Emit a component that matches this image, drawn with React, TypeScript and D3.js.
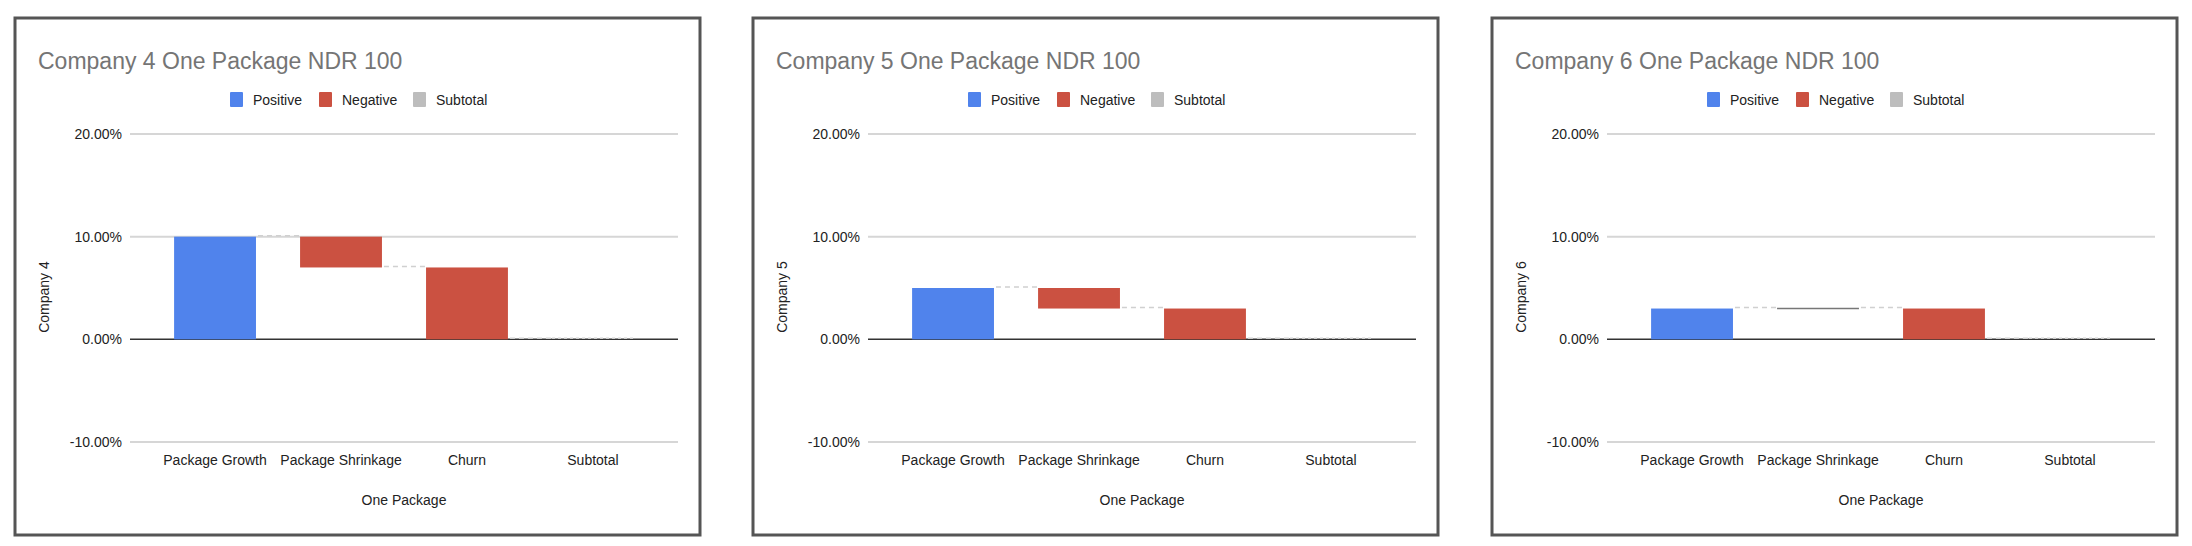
import * as d3 from 'd3';

const companies = ['Company 4', 'Company 5', 'Company 6'];
const categories = ['Package Growth', 'Package Shrinkage', 'Churn', 'Subtotal'];
// change per step, in percent (last one is the subtotal)
const growth = [10, 5, 3];
const shrinkage = [-3, -2, 0];
const churn = [-7, -3, -3];
const yTicks = [-10, 0, 10, 20];
const legendItems = ['Positive', 'Negative', 'Subtotal'];

const COLORS = { Positive: '#5083ec', Negative: '#cb5141', Subtotal: '#bdbdbd' };
const FONT = 'Arial, "Liberation Sans", sans-serif';
const PANEL_X = [15, 753, 1492];
const PANEL = { top: 18, w: 685, h: 517 };
const PLOT = { left: 115, right: 663 };

const Panel = ({ idx }: { idx: number }) => {
  const steps = [growth[idx], shrinkage[idx], churn[idx]];
  const x = d3.scalePoint<string>().domain(categories).range([PLOT.left, PLOT.right]).padding(0.675);
  const y = d3.scaleLinear().domain([-10, 20]).range([442 - PANEL.top, 134 - PANEL.top]);
  const bw = x.step() * 0.65;

  let run = 0;
  const bars = steps.map((v, i) => {
    const start = run;
    run += v;
    return { cat: categories[i], y0: start, y1: run, type: v >= 0 ? 'Positive' : 'Negative' };
  });
  bars.push({ cat: 'Subtotal', y0: 0, y1: run, type: 'Subtotal' });

  return (
    <g transform={`translate(${PANEL_X[idx]},${PANEL.top})`}>
      <rect x={0} y={0} width={PANEL.w} height={PANEL.h} fill="#fff" stroke="#555" strokeWidth={3} />
      <text x={23} y={51} fontSize={23} fill="#757575" fontFamily={FONT}>
        {`${companies[idx]} One Package NDR 100`}
      </text>
      {legendItems.map((l, i) => {
        const lx = [215, 304, 398][i];
        return (
          <g key={l}>
            <rect x={lx} y={74} width={13} height={15} rx={1} fill={COLORS[l as keyof typeof COLORS]} />
            <text x={lx + 23} y={87} fontSize={14} fill="#222" fontFamily={FONT}>{l}</text>
          </g>
        );
      })}
      {yTicks.map((t) => (
        <g key={t}>
          <line x1={PLOT.left} x2={PLOT.right} y1={y(t)} y2={y(t)} stroke={t === 0 ? '#333' : '#d6d6d6'} strokeWidth={t === 0 ? 1.5 : 2} />
          <text x={107} y={y(t) + 5} textAnchor="end" fontSize={14} fill="#222" fontFamily={FONT}>
            {t.toFixed(2) + '%'}
          </text>
        </g>
      ))}
      {bars.map((b, i) => {
        const cx = x(b.cat)!;
        const top = y(Math.max(b.y0, b.y1));
        const h = Math.abs(y(b.y0) - y(b.y1));
        const next = bars[i + 1];
        return (
          <g key={b.cat}>
            {next && (
              <line
                x1={cx + bw / 2 + 2}
                x2={x(next.cat)! - bw / 2}
                y1={y(b.y1) - 1}
                y2={y(b.y1) - 1}
                stroke="#d0d0d0"
                strokeWidth={1.5}
                strokeDasharray="5,4"
              />
            )}
            {h > 0 ? (
              <rect x={cx - bw / 2} y={top} width={bw} height={h} fill={COLORS[b.type as keyof typeof COLORS]} />
            ) : b.type === 'Subtotal' ? (
              <line x1={cx - bw / 2} x2={cx + bw / 2} y1={y(b.y1) - 1} y2={y(b.y1) - 1} stroke="#d0d0d0" strokeWidth={1.5} strokeDasharray="3,3" />
            ) : (
              <line x1={cx - bw / 2} x2={cx + bw / 2} y1={y(b.y1)} y2={y(b.y1)} stroke="#777" strokeWidth={1.5} />
            )}
          </g>
        );
      })}
      {categories.map((c) => (
        <text key={c} x={x(c)} y={465 - PANEL.top} textAnchor="middle" fontSize={14} fill="#222" fontFamily={FONT}>{c}</text>
      ))}
      <text x={(PLOT.left + PLOT.right) / 2} y={505 - PANEL.top} textAnchor="middle" fontSize={14} fill="#222" fontFamily={FONT}>
        One Package
      </text>
      <text transform={`translate(34,${297 - PANEL.top}) rotate(-90)`} textAnchor="middle" fontSize={14} fill="#222" fontFamily={FONT}>
        {companies[idx]}
      </text>
    </g>
  );
};

export default function App() {
  return (
    <svg width={2192} height={546} style={{ position: 'absolute', left: 0, top: 0, background: '#fff' }}>
      {companies.map((c, i) => <Panel key={c} idx={i} />)}
    </svg>
  );
}
